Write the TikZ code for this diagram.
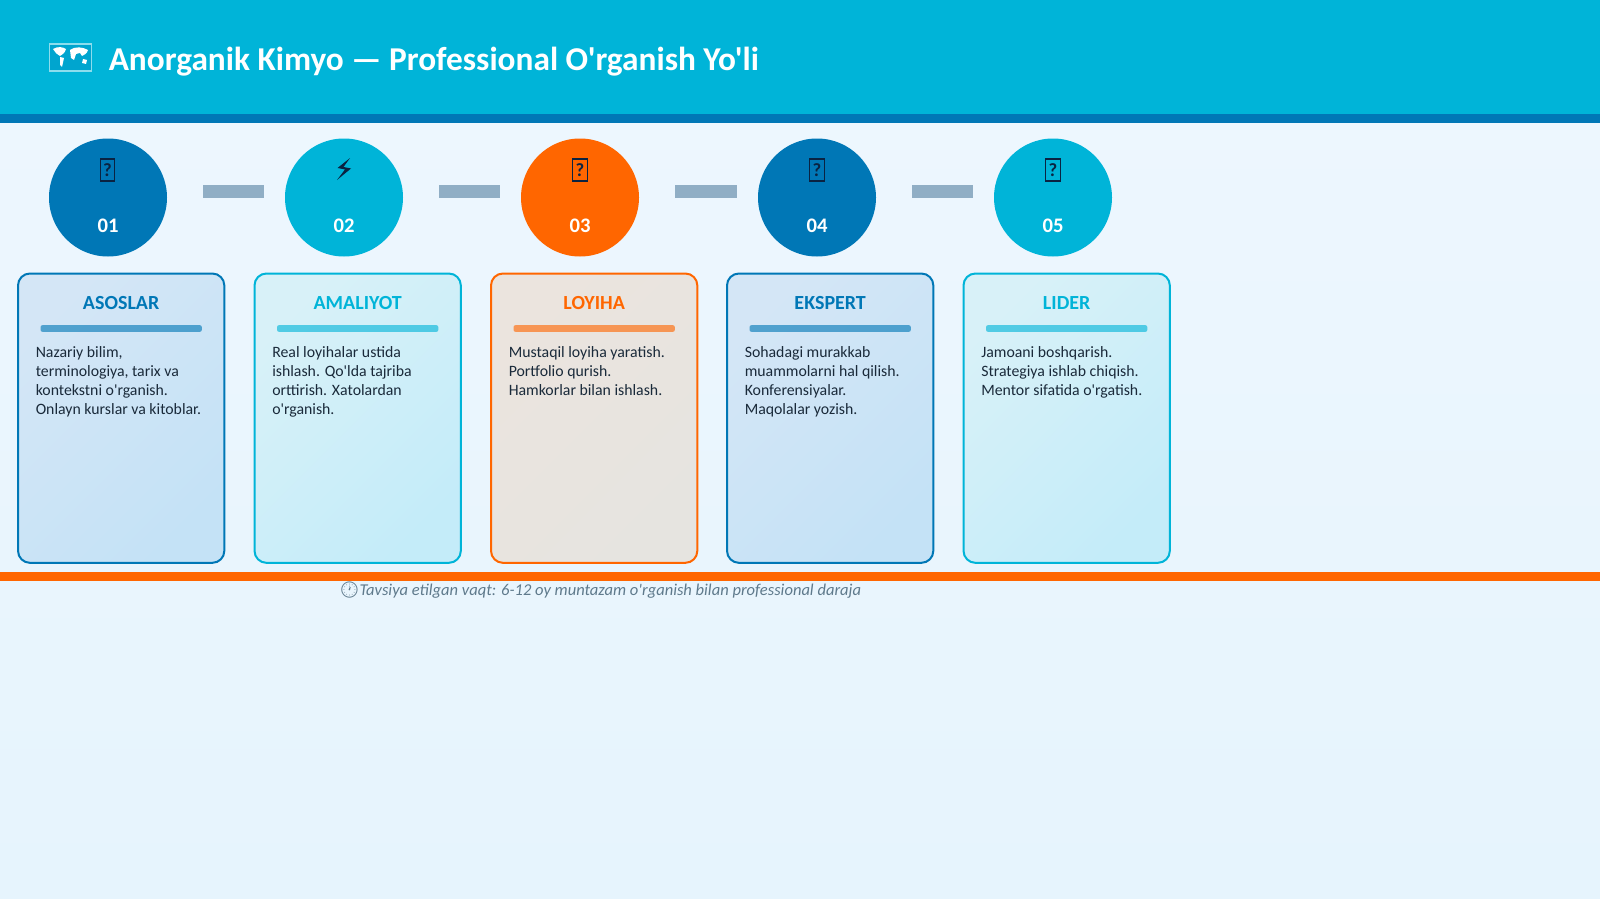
\documentclass[tikz,border=0pt]{standalone}
\usepackage{fontspec}
\setmainfont{Carlito}[Ligatures=TeXOff]
\newfontfamily\emojifont{Noto Emoji}
\usetikzlibrary{calc,positioning,shadows}
\definecolor{hdr}{HTML}{00B4D8}
\definecolor{deep}{HTML}{0077B6}
\definecolor{orng}{HTML}{FF6600}
\definecolor{navy}{HTML}{0A2342}
\definecolor{bodyink}{HTML}{1A2A3A}
\definecolor{noteink}{HTML}{5F7A8C}
\definecolor{linkgrey}{HTML}{90AEC5}
\definecolor{pageA}{HTML}{EEF7FE}
\definecolor{pageB}{HTML}{E6F4FD}
\definecolor{tintA}{HTML}{D4E6F6}
\definecolor{tintAb}{HTML}{C4E2F6}
\definecolor{tintB}{HTML}{D8F1F8}
\definecolor{tintBb}{HTML}{C4ECF9}
\definecolor{tintC}{HTML}{EBE4DE}
\definecolor{tintCb}{HTML}{E6E4E0}
\tikzset{
  stagecircle/.style={circle,minimum size=88.5pt,inner sep=0pt,fill=#1},
  stagenum/.style={font=\bfseries\fontsize{15.5}{18}\selectfont,text=white,inner sep=0pt},
  tofubox/.style={draw=navy,line width=0.8pt,minimum width=11pt,minimum height=16.5pt,inner sep=0pt,font=\bfseries\fontsize{14}{14}\selectfont,text=navy},
  stagecard/.style={draw=#1,line width=1.5pt,rounded corners=9pt,minimum width=154.75pt,minimum height=217pt,inner sep=0pt,anchor=north west},
  cardhead/.style={font=\bfseries\fontsize{15}{17}\selectfont,text=#1,inner sep=0pt},
  cardrule/.style={fill=#1,rounded corners=1.5pt,minimum width=121pt,minimum height=5pt,inner sep=0pt,opacity=.62},
  cardbody/.style={font=\fontsize{11.85}{14.2}\selectfont,text=bodyink,align=left,inner sep=0pt,anchor=north west},
  linkbar/.style={draw=linkgrey,line width=9.75pt,shorten <=27pt,shorten >=15.75pt}
}
% #1 id, #2 circle x, #3 card left x, #4 colour, #5 tint start, #6 tint end, #7 heading, #8 body, #9 glyph node
\newcommand{\lvlstage}[9]{%
  \node[stagecircle=#4] (c#1) at (#2,197.5) {};
  #9
  \node[stagenum] (n#1) at (#2,226) {0#1};
  \node[stagecard=#4,left color=#5,right color=#6,shading angle=45] (k#1) at (#3,272.5) {};
  \node[cardhead=#4] (h#1) at ($(k#1.north)+(0,31)$) {#7};
  \node[cardrule=#4] (r#1) at ($(k#1.north)+(0,56)$) {};
  \node[cardbody] (b#1) at ($(k#1.north west)+(18.5,73.5)$) {#8};
}
\begin{document}
\begin{tikzpicture}[x=0.75pt,y=-0.75pt]
\useasboundingbox (0,0) rectangle (1600,899);
\fill[top color=pageA,bottom color=pageB] (0,0) rectangle (1600,899);
\fill[hdr] (0,0) rectangle (1600,114);
\fill[deep] (0,114) rectangle (1600,123);
% map icon
\draw[draw=white!55!hdr,line width=0.8pt,fill=hdr!75!deep] (49.5,44) rectangle (91.5,71);
\fill[white] (53,49) .. controls (58,46) and (63,47) .. (66,49) .. controls (65,53) and (62,55) .. (60,56) .. controls (57,55) and (55,52) .. (53,49) -- cycle;
\fill[white] (60,57) -- (64,58) -- (62,67) -- (60,65) -- cycle;
\fill[white] (70,50) .. controls (75,46) and (83,47) .. (88,50) .. controls (87,54) and (84,55) .. (82,56) -- (80,53) -- (76,54) -- (74,60) -- (71,58) -- cycle;
\fill[white] (83,59) -- (87,60) -- (86,64) -- (82,63) -- cycle;
\node[anchor=base west,inner sep=0pt,font=\bfseries\fontsize{25}{28}\selectfont,text=white] (title) at (108.5,70) {Anorganik Kimyo — Professional O'rganish Yo'li};

\lvlstage{1}{108}{17}{deep}{tintA}{tintAb}{ASOSLAR}{Nazariy bilim,\\terminologiya, tarix va\\kontekstni o'rganish.\\Onlayn kurslar va kitoblar.}{\node[tofubox] (g1) at (107.5,170) {?};}
\lvlstage{2}{344}{253.5}{hdr}{tintB}{tintBb}{AMALIYOT}{Real loyihalar ustida\\ishlash. Qo'lda tajriba\\orttirish. Xatolardan\\o'rganish.}{\fill[navy] (350,158) -- (337.5,168) -- (345,169.5) -- (337,180) -- (351,168.5) -- (343.5,167) -- cycle;}
\lvlstage{3}{580}{490}{orng}{tintC}{tintCb}{LOYIHA}{Mustaqil loyiha yaratish.\\Portfolio qurish.\\Hamkorlar bilan ishlash.}{\node[tofubox] (g3) at (580,170) {?};}
\lvlstage{4}{817}{726}{deep}{tintA}{tintAb}{EKSPERT}{Sohadagi murakkab\\muammolarni hal qilish.\\Konferensiyalar.\\Maqolalar yozish.}{\node[tofubox] (g4) at (817,170) {?};}
\lvlstage{5}{1053}{962.5}{hdr}{tintB}{tintBb}{LIDER}{Jamoani boshqarish.\\Strategiya ishlab chiqish.\\Mentor sifatida o'rgatish.}{\node[tofubox] (g5) at (1053,170) {?};}

\foreach \a/\b in {1/2,2/3,3/4,4/5}
  \draw[linkbar] ($(c\a.east)+(0,-6)$) -- ($(c\b.west)+(0,-6)$);

\fill[orng] (0,572) rectangle (1600,581);
\node[anchor=base west,inner sep=0pt,font=\itshape\fontsize{12.4}{14}\selectfont,text=noteink] (note) at (339,595) {{\emojifont\fontsize{12}{14}\selectfont 🕐}Tavsiya etilgan vaqt: 6-12 oy muntazam o'rganish bilan professional daraja};
\end{tikzpicture}
\end{document}
